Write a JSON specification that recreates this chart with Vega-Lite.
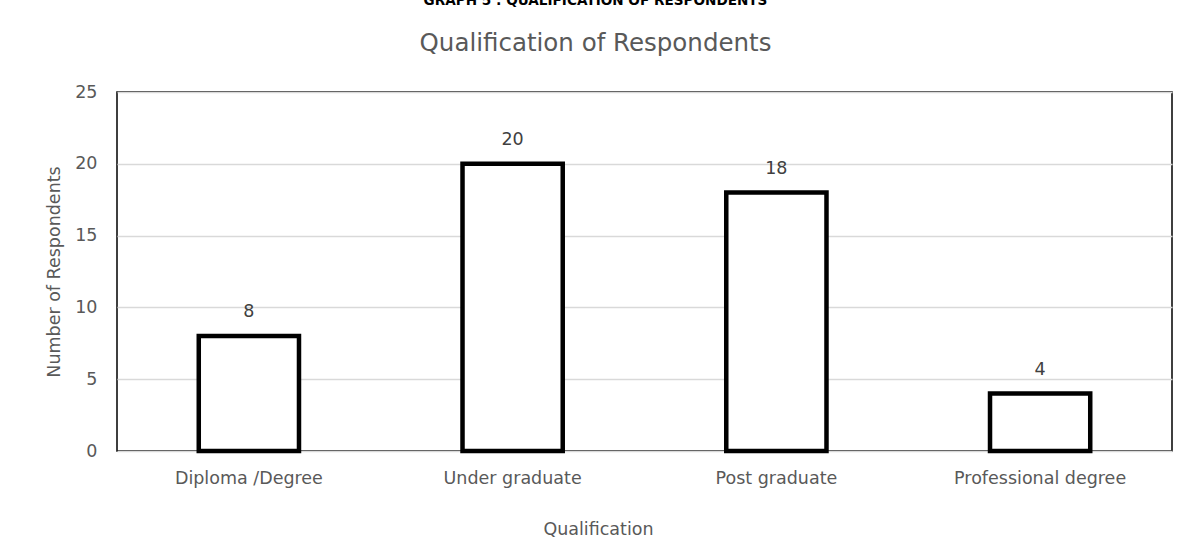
{
  "$schema": "https://vega.github.io/schema/vega-lite/v6.json",
  "autosize": {"type": "none"},
  "width": 1055,
  "height": 359,
  "padding": {"left": 117, "top": 92, "right": 22, "bottom": 103},
  "background": "white",
  "config": {
    "font": "DejaVu Sans",
    "view": {"stroke": "black", "strokeWidth": 1.5},
    "axis": {"domain": false, "ticks": false, "labelColor": "#595959", "titleColor": "#595959", "labelFont": "DejaVu Sans", "titleFont": "DejaVu Sans", "labelFontSize": 17.5, "titleFontSize": 17.5, "titleFontWeight": "normal"}
  },
  "title": {
    "text": "GRAPH 5 : QUALIFICATION OF RESPONDENTS",
    "subtitle": "Qualification of Respondents",
    "anchor": "middle",
    "dx": -49,
    "font": "DejaVu Sans",
    "fontSize": 13.6,
    "fontWeight": "bold",
    "color": "black",
    "subtitleFontSize": 24.5,
    "subtitleColor": "#595959",
    "subtitleFont": "DejaVu Sans",
    "subtitlePadding": 24,
    "offset": 28
  },
  "data": {
    "values": [
      {"qualification": "Diploma /Degree", "respondents": 8},
      {"qualification": "Under graduate", "respondents": 20},
      {"qualification": "Post graduate", "respondents": 18},
      {"qualification": "Professional degree", "respondents": 4}
    ]
  },
  "encoding": {
    "x": {
      "field": "qualification",
      "type": "nominal",
      "sort": null,
      "scale": {"paddingInner": 0.62, "paddingOuter": 0.31},
      "axis": {"title": "Qualification", "labelAngle": 0, "labelPadding": 18, "titlePadding": 34, "titleX": 481, "titleAnchor": "middle", "grid": false}
    },
    "y": {
      "field": "respondents",
      "type": "quantitative",
      "scale": {"domain": [0, 25]},
      "axis": {"title": "Number of Respondents", "values": [0, 5, 10, 15, 20, 25], "labelPadding": 20, "titlePadding": 11, "grid": true, "gridColor": "#d9d9d9", "gridWidth": 1.5}
    }
  },
  "layer": [
    {
      "mark": {"type": "bar", "fill": "white", "stroke": "black", "strokeWidth": 4.5}
    },
    {
      "mark": {"type": "text", "baseline": "middle", "dy": -24, "fontSize": 17.5, "color": "#404040", "font": "DejaVu Sans"},
      "encoding": {"text": {"field": "respondents", "type": "quantitative"}}
    }
  ]
}
